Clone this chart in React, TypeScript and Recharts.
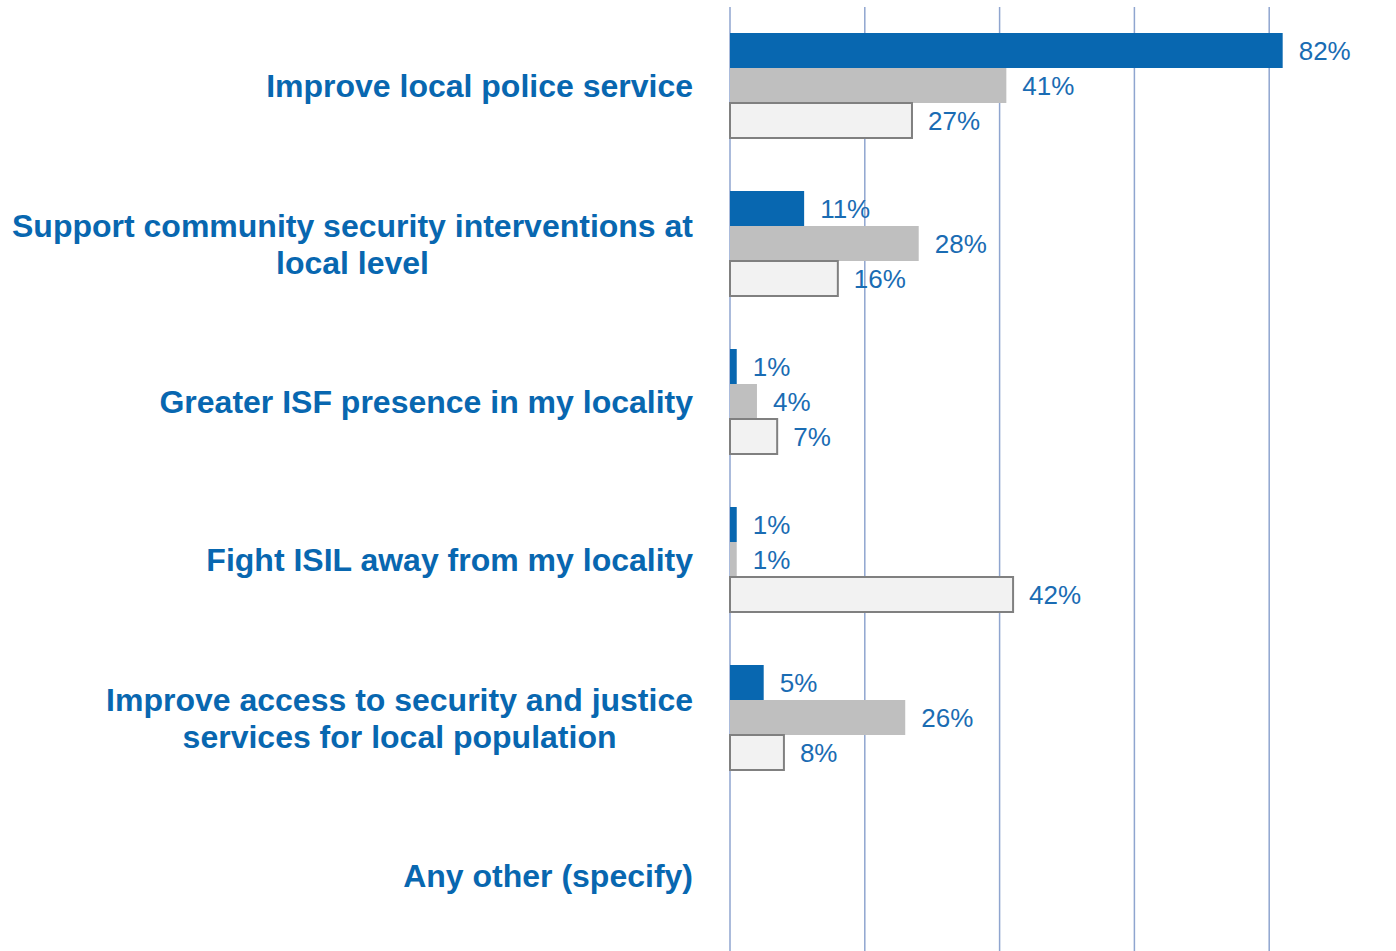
import React from 'react';
import { BarChart, Bar, XAxis, YAxis, CartesianGrid, LabelList } from 'recharts';

// categories (multi-line labels split with \n)
const categories = [
  'Improve local police service',
  'Support community security interventions at\nlocal level',
  'Greater ISF presence in my locality',
  'Fight ISIL away from my locality',
  'Improve access to security and justice\nservices for local population',
  'Any other (specify)',
];

// series values in %
const seriesA = [82, 11, 1, 1, 5, null];
const seriesB = [41, 28, 4, 1, 26, null];
const seriesC = [27, 16, 7, 42, 8, null];

const xTicks = [0, 20, 40, 60, 80, 100];

const data = categories.map((name, i) => ({
  name,
  a: seriesA[i],
  b: seriesB[i],
  c: seriesC[i],
}));

const FONT = '"Liberation Sans", Arial, sans-serif';
const BLUE = '#0867b0';
const LABEL_BLUE = '#1a6cb3';

let ctx: CanvasRenderingContext2D | null = null;
const measure = (text: string) => {
  if (!ctx) ctx = document.createElement('canvas').getContext('2d');
  if (!ctx) return text.length * 16;
  ctx.font = `bold 32px ${FONT}`;
  return ctx.measureText(text).width;
};

const CategoryTick = (props: any) => {
  const { x, y, payload } = props;
  const lines: string[] = String(payload.value).split('\n');
  if (lines.length === 1) {
    return (
      <text x={x} y={y} dy="0.35em" textAnchor="end" fontFamily={FONT}
        fontWeight="bold" fontSize={32} fill={BLUE}>
        {lines[0]}
      </text>
    );
  }
  const w = Math.max(...lines.map(measure));
  const cx = x - w / 2;
  const lh = 37;
  const start = y - ((lines.length - 1) * lh) / 2;
  return (
    <text textAnchor="middle" fontFamily={FONT} fontWeight="bold" fontSize={32} fill={BLUE}>
      {lines.map((l, i) => (
        <tspan key={i} x={cx} y={start + i * lh} dy="0.35em">{l}</tspan>
      ))}
    </text>
  );
};

const fmt = (v: any) => (v == null ? '' : `${v}%`);

export default function App() {
  return (
    <div style={{ position: 'absolute', left: 0, top: 0, width: 1396, height: 951, overflow: 'hidden', background: '#fff' }}>
      <BarChart
        width={1410}
        height={960}
        data={data}
        layout="vertical"
        margin={{ top: 7, right: 6, bottom: 5, left: 0 }}
        barCategoryGap={26}
        barGap={0}
      >
        <CartesianGrid horizontal={false} stroke="#8fa5cf" strokeWidth={1.5} />
        <XAxis type="number" domain={[0, 100]} ticks={xTicks} hide />
        <YAxis
          type="category"
          dataKey="name"
          width={730}
          axisLine={false}
          tickLine={false}
          tickSize={0}
          tickMargin={37}
          interval={0}
          tick={<CategoryTick />}
        />
        <Bar dataKey="a" name="Series 1" fill={BLUE} isAnimationActive={false}>
          <LabelList dataKey="a" position="right" offset={16} formatter={fmt}
            fill={LABEL_BLUE} fontSize={26} fontFamily={FONT} />
        </Bar>
        <Bar dataKey="b" name="Series 2" fill="#bfbfbf" isAnimationActive={false}>
          <LabelList dataKey="b" position="right" offset={16} formatter={fmt}
            fill={LABEL_BLUE} fontSize={26} fontFamily={FONT} />
        </Bar>
        <Bar dataKey="c" name="Series 3" fill="#f2f2f2" stroke="#808080" strokeWidth={2} isAnimationActive={false}>
          <LabelList dataKey="c" position="right" offset={16} formatter={fmt}
            fill={LABEL_BLUE} fontSize={26} fontFamily={FONT} />
        </Bar>
      </BarChart>
    </div>
  );
}
